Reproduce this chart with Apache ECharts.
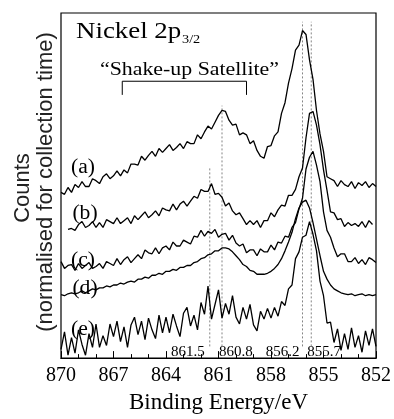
<!DOCTYPE html>
<html><head><meta charset="utf-8">
<script src="https://cdn.jsdelivr.net/npm/echarts@6/dist/echarts.min.js"></script>
<style>html,body{margin:0;padding:0;background:#fff}#c{width:394px;height:419px}</style>
</head><body><div id="c"></div>
<script>
// Binding energy sampling grid (eV)
const energies = [
870.0,869.8,869.6,869.4,869.2,869.0,868.8,868.6,868.4,868.2,
868.0,867.8,867.6,867.4,867.2,867.0,866.8,866.6,866.4,866.2,
866.0,865.8,865.6,865.4,865.2,865.0,864.8,864.6,864.4,864.2,
864.0,863.8,863.6,863.4,863.2,863.0,862.8,862.6,862.4,862.2,
862.0,861.8,861.6,861.4,861.2,861.0,860.8,860.6,860.4,860.2,
860.0,859.8,859.6,859.4,859.2,859.0,858.8,858.6,858.4,858.2,
858.0,857.8,857.6,857.4,857.2,857.0,856.8,856.6,856.4,856.2,
856.0,855.8,855.6,855.4,855.2,855.0,854.8,854.6,854.4,854.2,
854.0,853.8,853.6,853.4,853.2,853.0,852.8,852.6,852.4,852.2,
852.0];

// Counts (arbitrary, offset-stacked) for spectra (a)-(e)
const traceA = [
170,168,175,170,178,175,181,176,176,184,
182,179,186,189,184,187,192,187,193,190,
199,199,198,207,203,208,212,207,215,211,
215,219,213,216,220,215,222,220,220,229,
225,232,238,235,242,249,254,253,244,239,
240,229,231,229,220,223,213,207,205,217,
218,228,232,251,262,282,297,316,321,336,
332,306,286,254,230,212,186,184,182,176,
182,178,176,181,174,180,177,181,175,179,
176];
const traceB = [
null,null,132,133,131,137,140,134,136,140,
134,139,134,142,140,138,144,138,141,144,
138,146,142,146,150,144,147,151,146,154,
152,151,158,152,158,161,156,161,166,164,
173,171,171,179,168,169,165,156,159,151,
147,149,143,137,141,137,141,134,141,141,
149,145,152,157,156,167,167,173,186,195,
226,251,253,239,219,193,172,150,149,142,
143,135,139,136,138,135,140,134,141,137,
null];
const traceC = [
99,92,95,96,90,97,92,95,98,92,
94,97,92,99,97,95,102,96,101,104,
98,102,106,102,111,108,107,113,107,113,
115,111,119,115,115,121,119,117,125,124,
131,125,130,128,132,124,127,128,121,126,
118,115,117,108,111,111,105,112,109,109,
116,111,119,118,125,124,134,139,153,164,
194,206,212,198,181,150,131,124,113,104,
107,107,99,99,103,97,101,96,103,101,
98];
const traceD = [
65,64,66,67,66,67,69,67,69,71,
70,72,72,74,73,75,75,77,76,78,
79,78,81,81,83,82,85,85,87,86,
89,89,91,90,93,93,95,95,98,99,
102,103,106,107,110,110,113,113,112,109,
105,101,96,94,90,89,86,86,86,87,
89,92,96,102,110,119,129,143,154,160,
162,154,139,122,105,89,81,75,71,69,
67,66,65,66,64,65,66,64,65,64,
65];
const traceE = [
9,27,3,21,5,29,14,3,25,11,
35,11,23,13,35,22,38,17,32,11,
34,42,24,38,19,41,29,20,44,26,
42,26,45,33,22,46,52,33,44,29,
57,45,74,40,55,70,41,56,45,64,
42,35,52,40,55,34,28,48,40,51,
41,52,43,58,54,71,75,102,109,124,
126,140,127,110,79,64,36,37,16,30,
8,25,9,31,11,23,6,28,13,30,
12];

const traceNames = ['(a)','(b)','(c)','(d)','(e)'];
const xTicks = [870,867,864,861,858,855,852];

// Reference peak positions (eV) and the heights their guide lines reach
const markerEnergies = [861.5, 860.8, 856.2, 855.7];
const markerLabels = ['861.5','860.8','856.2','855.7'];
const markerTops = [195, 259, 345, 345];
const markerBottom = 12;

// "Shake-up Satellite" bracket (eV range and heights)
const bracketEnergies = [866.5, 859.4];
const bracketLevels = [270, 284];

const serif = "'Liberation Serif','Times New Roman',serif";
const sans = "'Liberation Sans',Arial,sans-serif";

const chart = echarts.init(document.getElementById('c'), null, {renderer:'canvas'});

function toData(arr){ return energies.map((e,i)=>[e, arr[i]]); }
const traces = [traceA, traceB, traceC, traceD, traceE];

const series = traces.map((t,i)=>({
  type:'line', name:traceNames[i], data:toData(t), symbol:'none', showSymbol:false,
  connectNulls:false, lineStyle:{color:'#000', width:1.3}, z:5, silent:true
}));

markerEnergies.forEach((e,i)=>{
  series.push({type:'line', data:[[e,markerBottom],[e,markerTops[i]]], symbol:'none',
    lineStyle:{color:'#777', width:0.9, type:[2,2]}, z:3, silent:true});
});

series.push({type:'line', symbol:'none', silent:true, z:4,
  data:[[bracketEnergies[0],bracketLevels[0]],[bracketEnergies[0],bracketLevels[1]],
        [bracketEnergies[1],bracketLevels[1]],[bracketEnergies[1],bracketLevels[0]]],
  lineStyle:{color:'#000', width:1}});

const option = {
  animation:false,
  grid:{left:61,right:15,top:13,bottom:52,show:true,borderColor:'#000',borderWidth:1.2},
  xAxis:{type:'value',min:852,max:870,interval:3,inverse:true,
    axisLine:{show:true,lineStyle:{color:'#000',width:1.2}},
    axisTick:{show:true,inside:true,length:7,lineStyle:{color:'#000',width:1}},
    minorTick:{show:true,splitNumber:3,length:4,lineStyle:{color:'#000',width:1}},
    splitLine:{show:false},
    axisLabel:{color:'#000',fontFamily:serif,fontSize:20,margin:8,showMinLabel:true,showMaxLabel:true,
      formatter:v=>xTicks.includes(v)?String(v):''},
    name:'Binding Energy/eV',nameLocation:'middle',nameGap:29,
    nameTextStyle:{color:'#000',fontFamily:serif,fontSize:23}},
  yAxis:{type:'value',min:0,max:354,show:false},
  series:series
};
chart.setOption(option);

// Text annotations
const labelPos = [[83,168],[85,214],[83,261],[85,289],[83,330]];
const graphics = [];
traceNames.forEach((n,i)=>{
  graphics.push({type:'text', x:labelPos[i][0], y:labelPos[i][1], scaleX:1.08,
    style:{text:n, font:'20px '+serif, fill:'#000', textAlign:'center', textVerticalAlign:'middle'}});
});
graphics.push({type:'text', x:76, y:32, scaleX:1.12,
  style:{text:'Nickel 2p', font:'24px '+serif, fill:'#000', textAlign:'left', textVerticalAlign:'middle'}});
graphics.push({type:'text', x:182, y:40, scaleX:1.1,
  style:{text:'3/2', font:'13px '+serif, fill:'#000', textAlign:'left', textVerticalAlign:'middle'}});
graphics.push({type:'text', x:100, y:70, scaleX:1.12,
  style:{text:'\u201CShake-up Satellite\u201D', font:'19.5px '+serif, fill:'#000', textAlign:'left', textVerticalAlign:'middle'}});
graphics.push({type:'text', x:23, y:188, rotation:Math.PI/2,
  style:{text:'Counts', font:'22px '+sans, fill:'#222', textAlign:'center', textVerticalAlign:'middle'}});
graphics.push({type:'text', x:46, y:182, rotation:Math.PI/2,
  style:{text:'(normalised for collection time)', font:'22px '+sans, fill:'#222', textAlign:'center', textVerticalAlign:'middle'}});

const markerAlign = ['right','left','right','left'];
const markerShift = [-5,-3,-3,-4];
markerEnergies.forEach((e,i)=>{
  const p = chart.convertToPixel({gridIndex:0}, [e, markerBottom]);
  graphics.push({type:'text', x:p[0]+markerShift[i], y:p[1]+6,
    style:{text:markerLabels[i], font:'15px '+serif, fill:'#000', textAlign:markerAlign[i], textVerticalAlign:'middle'}});
});
chart.setOption({graphic:graphics});
</script>
</body></html>
